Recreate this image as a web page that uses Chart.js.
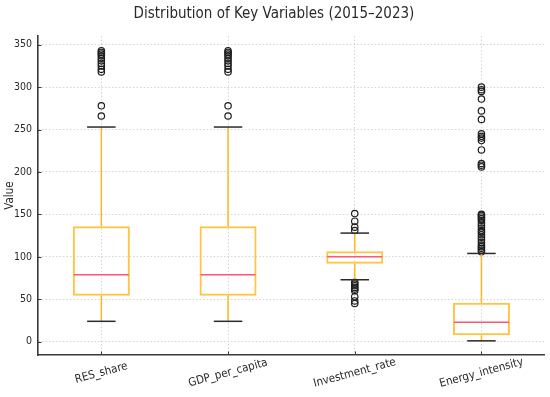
<!DOCTYPE html>
<html><head><meta charset="utf-8">
<script src="https://cdn.jsdelivr.net/npm/chart.js@4.4.1/dist/chart.umd.min.js"></script>
<style>html,body{margin:0;padding:0;background:#fff}</style>
</head><body>
<canvas id="c" width="550" height="397"></canvas>
<script>
const categories = ['RES_share', 'GDP_per_capita', 'Investment_rate', 'Energy_intensity'];
const q1 = [54, 54, 92, 7.5];
const medians = [79, 79, 100, 23];
const q3 = [136, 136, 106.5, 46];
const whiskerLow = [24, 24, 73, 1];
const whiskerHigh = [253, 253, 128, 104];
const resOutliers = [266, 278, 318, 321, 325, 328, 331, 334, 337, 339, 341, 343];
const gdpOutliers = [266, 278, 318, 321, 325, 328, 331, 334, 337, 339, 341, 343];
const invOutliers = [151, 142, 135, 131, 70, 68, 66, 64, 62, 60, 53, 48, 45];
const energyOutliers = [106, 108, 110, 112, 114, 117, 120, 123, 126, 129, 131, 134, 137, 140, 143, 145, 147, 149, 150,
  206, 208, 210, 226, 237, 240, 242, 245, 262, 272, 286, 295, 297, 300];
const yTicks = [0, 50, 100, 150, 200, 250, 300, 350];
const allOutliers = [resOutliers, gdpOutliers, invOutliers, energyOutliers];

const FONT = "'DejaVu Sans Condensed', 'DejaVu Sans', sans-serif";
const BOX_COLOR = '#FFC443';
const WHISKER_COLOR = '#FFB620';
const MEDIAN_COLOR = '#FF5577';
const CAP_COLOR = '#2b2b2b';
const AXIS_COLOR = '#3a3a3a';
const TEXT_COLOR = '#2a2a2a';
const GRID_COLOR = '#cfcfcf';

const outlierPoints = categories.flatMap((c, i) => allOutliers[i].map(v => ({x: c, y: v})));

const boxParts = {
  id: 'boxParts',
  afterDatasetsDraw(chart) {
    const {ctx, scales: {x, y}, chartArea} = chart;
    const step = x.getPixelForValue(1) - x.getPixelForValue(0);
    const boxW = step * 0.45, capW = boxW * 0.5;
    const seg = (x1, y1, x2, y2) => { ctx.beginPath(); ctx.moveTo(x1, y1); ctx.lineTo(x2, y2); ctx.stroke(); };
    ctx.save();
    categories.forEach((c, i) => {
      const cx = x.getPixelForValue(i);
      ctx.lineWidth = 1.5;
      ctx.strokeStyle = WHISKER_COLOR;
      seg(cx, y.getPixelForValue(q3[i]), cx, y.getPixelForValue(whiskerHigh[i]));
      seg(cx, y.getPixelForValue(q1[i]), cx, y.getPixelForValue(whiskerLow[i]));
      ctx.strokeStyle = CAP_COLOR;
      ctx.lineWidth = 1.5;
      seg(cx - capW / 2, y.getPixelForValue(whiskerHigh[i]), cx + capW / 2, y.getPixelForValue(whiskerHigh[i]));
      seg(cx - capW / 2, y.getPixelForValue(whiskerLow[i]), cx + capW / 2, y.getPixelForValue(whiskerLow[i]));
      ctx.strokeStyle = MEDIAN_COLOR;
      ctx.lineWidth = 1.5;
      seg(cx - boxW / 2 + 1, y.getPixelForValue(medians[i]), cx + boxW / 2 - 1, y.getPixelForValue(medians[i]));
    });
    ctx.strokeStyle = AXIS_COLOR;
    ctx.lineWidth = 1;
    yTicks.forEach(v => { const py = Math.round(y.getPixelForValue(v)) + 0.5; seg(chartArea.left, py, chartArea.left + 3.5, py); });
    categories.forEach((c, i) => { const px = Math.round(x.getPixelForValue(i)) + 0.5; seg(px, chartArea.bottom, px, chartArea.bottom - 3.5); });
    ctx.restore();
  },
  afterDraw(chart) {
    const {ctx, scales: {x}} = chart;
    ctx.save();
    ctx.font = '11.5px ' + FONT;
    ctx.fillStyle = TEXT_COLOR;
    ctx.textAlign = 'center';
    ctx.textBaseline = 'middle';
    categories.forEach((c, i) => {
      ctx.save();
      ctx.translate(x.getPixelForValue(i), 373);
      ctx.rotate(-15 * Math.PI / 180);
      ctx.fillText(c, 0, 0);
      ctx.restore();
    });
    ctx.restore();
  }
};

new Chart(document.getElementById('c'), {
  type: 'bar',
  data: {
    labels: categories,
    datasets: [
      {
        type: 'bar',
        data: categories.map((c, i) => [q1[i], q3[i]]),
        backgroundColor: 'rgba(0,0,0,0)',
        borderColor: BOX_COLOR,
        borderWidth: 2,
        borderSkipped: false,
        categoryPercentage: 1,
        barPercentage: 0.45,
        order: 2
      },
      {
        type: 'line',
        data: outlierPoints,
        showLine: false,
        pointRadius: 3.2,
        pointBackgroundColor: 'rgba(0,0,0,0)',
        pointBorderColor: '#1e1e1e',
        pointBorderWidth: 1.2,
        order: 1
      }
    ]
  },
  options: {
    responsive: false,
    animation: false,
    layout: {padding: {left: 0, right: 2, top: 0, bottom: 0}},
    plugins: {
      legend: {display: false},
      tooltip: {enabled: false},
      title: {
        display: true,
        text: 'Distribution of Key Variables (2015–2023)',
        color: TEXT_COLOR,
        font: {family: FONT, size: 15, weight: 'normal', lineHeight: 1.2},
        padding: {top: 5, bottom: 13}
      }
    },
    scales: {
      x: {
        offset: true,
        ticks: {display: false},
        grid: {display: true, offset: false, drawTicks: false, color: GRID_COLOR, lineWidth: 0.9},
        border: {display: true, color: AXIS_COLOR, width: 1.6, dash: [1.5, 2]},
        afterFit: s => { s.height = 42; }
      },
      y: {
        min: -15.7,
        max: 360.3,
        ticks: {stepSize: 50, includeBounds: false, color: TEXT_COLOR, padding: 6, font: {family: FONT, size: 10.5}},
        grid: {drawTicks: false, color: GRID_COLOR, lineWidth: 0.9},
        border: {display: true, color: AXIS_COLOR, width: 1.6, dash: [1.5, 2]},
        title: {display: true, text: 'Value', color: TEXT_COLOR, font: {family: FONT, size: 11.5}, padding: {top: 3, bottom: 0}},
        afterFit: s => { s.width = 38; }
      }
    }
  },
  plugins: [boxParts]
});
</script>
</body></html>
